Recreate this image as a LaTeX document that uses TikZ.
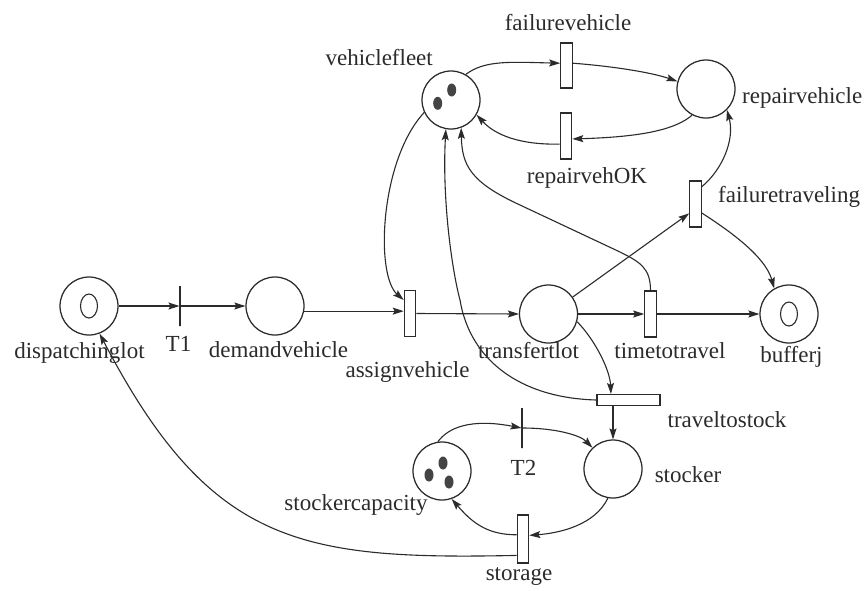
\documentclass[tikz,border=0pt]{standalone}
\usepackage{fontspec}
\setmainfont{Liberation Serif}
\newfontfamily\lblfont{Liberation Serif}
\usetikzlibrary{arrows.meta}
\definecolor{ink}{HTML}{2B2B2B}
\definecolor{tok}{HTML}{444444}
\begin{document}
\begin{tikzpicture}[x=1pt,y=-1pt,
  place/.style={circle, draw=ink, line width=1.25pt, minimum size=58pt, inner sep=0pt},
  trans/.style={rectangle, draw=ink, fill=white, line width=1.1pt, minimum width=11.5pt, minimum height=46pt, inner sep=0pt},
  htrans/.style={rectangle, draw=ink, fill=white, line width=1.1pt, minimum width=63pt, minimum height=11pt, inner sep=0pt},
  bar/.style={rectangle, draw=ink, line width=1.1pt, minimum width=0pt, minimum height=40pt, inner sep=0pt},
  lbl/.style={font=\lblfont\fontsize{23}{27}\selectfont, text=ink, inner sep=0pt, anchor=base},
  arc/.style={draw=ink, line width=1.1pt, -{Stealth[length=11pt,width=7pt,inset=2pt]}},
  ringmark/.style={draw=ink, line width=1.1pt},
]
\useasboundingbox (0,0) rectangle (868,590);
\fill[white] (0,0) rectangle (868,590);

% places
\node[place] (vf) at (451,100) {};
\node[place] (rv) at (706,89) {};
\node[place] (dl) at (89,306) {};
\node[place] (dv) at (275,306) {};
\node[place] (tl) at (548.5,314) {};
\node[place] (bj) at (789,314) {};
\node[place] (st) at (613,469) {};
\node[place] (sc) at (442,471) {};

% markings
\fill[tok] (451.7,90) ellipse [x radius=4.5pt, y radius=6.5pt];
\fill[tok] (437.7,103.3) ellipse [x radius=4.5pt, y radius=6.5pt];
\fill[tok] (443,463) ellipse [x radius=4.5pt, y radius=6.5pt];
\fill[tok] (429,475) ellipse [x radius=4.5pt, y radius=6.5pt];
\fill[tok] (449,482) ellipse [x radius=4.5pt, y radius=6.5pt];
\draw[ringmark] (dl.center) ellipse [x radius=8.5pt, y radius=12pt];
\draw[ringmark] (bj.center) ellipse [x radius=8.5pt, y radius=12pt];

% transitions
\node[bar] (T1) at (180,306) {};
\node[bar] (T2) at (522,428) {};
\node[trans] (av) at (410,313.5) {};
\node[trans] (tt) at (650.5,314) {};
\node[trans] (ft) at (695.5,204) {};
\node[trans, minimum height=45pt] (fv) at (566.5,65.5) {};
\node[trans] (ro) at (566,136) {};
\node[htrans] (ts) at (628.5,400) {};
\node[trans, minimum height=48pt] (sg) at (523,539) {};

% labels
\node[lbl, anchor=base east] (lvf) at (433,65) {vehiclefleet};
\node[lbl] (lfv) at (568,30) {failurevehicle};
\node[lbl, anchor=base west] (lrv) at (742,103) {repairvehicle};
\node[lbl] (lro) at (587,183) {repairvehOK};
\node[lbl, anchor=base west] (lft) at (718,202) {failuretraveling};
\node[lbl] (ldl) at (79.5,358) {dispatchinglot};
\node[lbl] (lT1) at (178.5,351) {T1};
\node[lbl] (ldv) at (278.5,357) {demandvehicle};
\node[lbl] (lav) at (407.5,377) {assignvehicle};
\node[lbl] (ltl) at (528.5,358) {transfertlot};
\node[lbl] (ltt) at (670,358) {timetotravel};
\node[lbl] (lbj) at (791.5,362) {bufferj};
\node[lbl] (lts) at (727,427) {traveltostock};
\node[lbl] (lst) at (688,482) {stocker};
\node[lbl] (lT2) at (523.5,475) {T2};
\node[lbl] (lsc) at (356,510) {stockercapacity};
\node[lbl] (lsg) at (519,580) {storage};

% arcs
\draw[arc] (dl.east) -- (T1.west);
\draw[arc] (T1.east) -- (dv.west);
\draw[arc] (dv.-10) -- (dv.-10 -| av.west);
\draw[arc] (av.east) -- (tl.west);
\draw[arc] (tl.east) -- (tt.west);
\draw[arc] (tt.east) -- (bj.west);
\draw[arc] (vf.205) .. controls (380,160) and (375,275) .. (av.115);
\draw[arc] (tl.35) -- (ft.236);
\draw[arc] (ft.70) .. controls (722,170) and (735,140) .. (rv.-45);
\draw[arc] (ft.-55) .. controls (725,228) and (765,255) .. (bj.120);
\draw[arc] (tt.north) .. controls (650.5,268) and (640,262) .. (620,252) -- (520,205) .. controls (470,182) and (462,165) .. (vf.-70);
\draw[arc] (ts.west) .. controls (520,398) and (470,360) .. (460,300) .. controls (452,270) and (442,200) .. (vf.-100);
\draw[arc] (tl.-15) .. controls (595,340) and (610,370) .. (ts.161);
\draw[arc] (st.north |- ts.south) -- (st.north);
\draw[arc] (sc.98) .. controls (448,428) and (470,418) .. (T2.west);
\draw[arc] (T2.east) .. controls (555,428) and (580,435) .. (st.134);
\draw[arc] (st.-100) .. controls (595,525) and (560,533) .. (sg.30);
\draw[arc] (sg.146) .. controls (485,535) and (470,520) .. (sc.-71);
\draw[arc] (sg.249) .. controls (300,560) and (210,545) .. (dl.-69);
\draw[arc] (vf.60) .. controls (485,60) and (510,62) .. (fv.160);
\draw[arc] (fv.20) .. controls (610,66) and (650,72) .. (rv.165);
\draw[arc] (rv.-118) .. controls (675,130) and (640,137) .. (ro.-25);
\draw[arc] (ro.232) .. controls (520,145) and (495,135) .. (vf.-30);
\end{tikzpicture}
\end{document}
